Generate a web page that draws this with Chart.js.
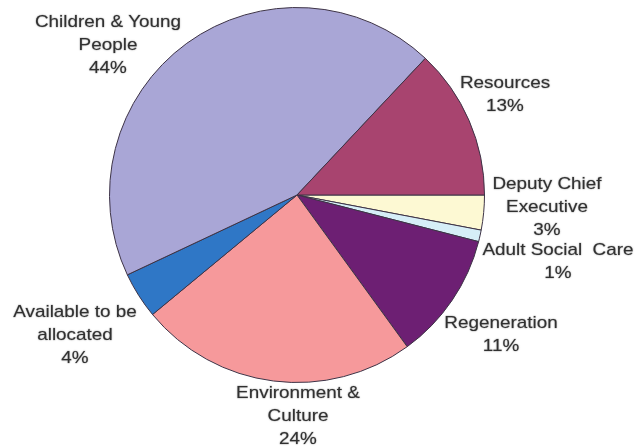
<!DOCTYPE html>
<html>
<head>
<meta charset="utf-8">
<script src="https://cdn.jsdelivr.net/npm/chart.js@4/dist/chart.umd.min.js"></script>
<style>
  html, body { margin: 0; padding: 0; background: #fff; }
  #wrap { width: 637px; height: 448px; position: relative; }
</style>
</head>
<body>
<div id="wrap"><canvas id="c" width="637" height="448"></canvas></div>
<script>
// Budget share by directorate (%), clockwise from 3 o'clock
const categories = [
  ['Deputy Chief', 'Executive'],
  ['Adult Social  Care'],
  ['Regeneration'],
  ['Environment &', 'Culture'],
  ['Available to be', 'allocated'],
  ['Children & Young', 'People'],
  ['Resources']
];
const shares = [3, 1, 11, 24, 4, 44, 13];

const sliceColors = ['#fdf9d3', '#d6eef7', '#6d1f73', '#f6999b', '#2f77c6', '#a9a6d6', '#a8446f'];

// Label anchor offsets from the pie centre (px), centre of first text line
const labelOffsets = [
  [250, -11], [261, 55], [204, 128], [1, 198], [-222, 117], [-189, -173], [208, -112]
];

const pieLabels = {
  id: 'pieLabels',
  afterDraw(chart) {
    const ctx = chart.ctx;
    const arc = chart.getDatasetMeta(0).data[0];
    const cx = arc.x, cy = arc.y;
    ctx.save();
    ctx.font = '17px "Liberation Sans", Arial, sans-serif';
    ctx.fillStyle = '#333333';
    ctx.strokeStyle = 'rgba(40,40,40,0.25)';
    ctx.lineWidth = 0.5;
    ctx.textAlign = 'center';
    ctx.textBaseline = 'middle';
    ctx.shadowColor = 'rgba(0,0,0,0.3)';
    ctx.shadowBlur = 2;
    const lineH = 23;
    categories.forEach((lines, i) => {
      const [dx, dy] = labelOffsets[i];
      const all = lines.concat([shares[i] + '%']);
      all.forEach((t, k) => {
        ctx.save();
        ctx.translate(cx + dx, cy + dy + k * lineH);
        ctx.scale(1.11, 1);
        ctx.fillText(t, 0, 0);
        ctx.strokeText(t, 0, 0);
        ctx.restore();
      });
    });
    ctx.restore();
  }
};

new Chart(document.getElementById('c'), {
  type: 'pie',
  data: {
    labels: categories.map(l => l.join(' ')),
    datasets: [{
      data: shares,
      backgroundColor: sliceColors,
      borderColor: '#3d3346',
      borderWidth: 1,
      hoverOffset: 0,
      offset: 0
    }]
  },
  options: {
    responsive: false,
    animation: false,
    rotation: 90,
    layout: { padding: { left: 109, right: 152, top: 7, bottom: 65 } },
    plugins: { legend: { display: false }, tooltip: { enabled: false } }
  },
  plugins: [pieLabels]
});
</script>
</body>
</html>
